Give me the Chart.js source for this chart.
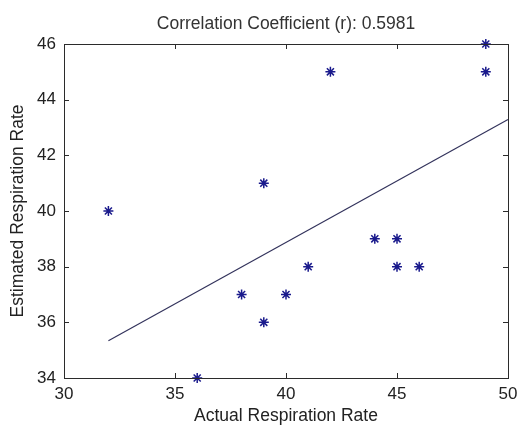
<!DOCTYPE html>
<html>
<head>
<meta charset="utf-8">
<script src="https://cdn.jsdelivr.net/npm/chart.js@4/dist/chart.umd.min.js"></script>
<style>
  html, body { margin: 0; padding: 0; background: #fff; }
  #wrap { width: 520px; height: 427px; }
</style>
</head>
<body>
<div id="wrap"><canvas id="rrChart" width="520" height="427"></canvas></div>
<script>
// measured pairs: actual vs estimated respiration rate (breaths/min)
const actualRate = [32, 36, 38, 39, 39, 40, 41, 42, 44, 45, 45, 46, 49, 49];
const estimatedRate = [40, 34, 37, 36, 41, 37, 38, 45, 39, 39, 38, 38, 46, 45];

// least-squares fit line, end points
const fitX = [32, 50];
const fitY = [35.34, 43.29];

const xTicks = [30, 35, 40, 45, 50];
const yTicks = [34, 36, 38, 40, 42, 44, 46];

const FONT = 'Liberation Sans, Arial, Helvetica, sans-serif';

// box around the plot area with inward pointing ticks on all four sides
const boxTicks = {
  id: 'boxTicks',
  afterDatasetsDraw(chart) {
    const { ctx, chartArea: a, scales } = chart;
    const len = 5;
    ctx.save();
    ctx.strokeStyle = '#2b2b2b';
    ctx.lineWidth = 1;
    ctx.beginPath();
    xTicks.forEach(v => {
      const px = Math.round(scales.x.getPixelForValue(v)) + 0.5;
      ctx.moveTo(px, a.bottom); ctx.lineTo(px, a.bottom - len);
      ctx.moveTo(px, a.top); ctx.lineTo(px, a.top + len);
    });
    yTicks.forEach(v => {
      const py = Math.round(scales.y.getPixelForValue(v)) + 0.5;
      ctx.moveTo(a.left, py); ctx.lineTo(a.left + len, py);
      ctx.moveTo(a.right, py); ctx.lineTo(a.right - len, py);
    });
    ctx.stroke();
    ctx.strokeRect(Math.round(a.left) + 0.5, Math.round(a.top) + 0.5,
      Math.round(a.right - a.left), Math.round(a.bottom - a.top));
    ctx.restore();
  }
};

const ctx = document.getElementById('rrChart').getContext('2d');
new Chart(ctx, {
  type: 'scatter',
  data: {
    datasets: [
      {
        label: 'Rate',
        data: actualRate.map((x, i) => ({ x, y: estimatedRate[i] })),
        pointStyle: 'star',
        pointRadius: 5,
        pointHoverRadius: 5,
        borderColor: '#1a1a8c',
        backgroundColor: '#1a1a8c',
        pointBorderWidth: 1.5,
        clip: false
      },
      {
        label: 'Fit',
        data: fitX.map((x, i) => ({ x, y: fitY[i] })),
        showLine: true,
        pointRadius: 0,
        borderColor: '#33335c',
        borderWidth: 1.2,
        clip: false
      }
    ]
  },
  options: {
    responsive: false,
    animation: false,
    layout: { padding: { left: 0, right: 12, top: 0, bottom: 0 } },
    plugins: {
      legend: { display: false },
      tooltip: { enabled: false },
      title: {
        display: true,
        fullSize: false, // center over the plot area only
        text: 'Correlation Coefficient (r): 0.5981',
        color: '#333',
        font: { family: FONT, size: 17.5, weight: 'normal' },
        padding: { top: 14, bottom: 9 }
      }
    },
    scales: {
      x: {
        type: 'linear',
        min: 30,
        max: 50,
        afterBuildTicks: s => { s.ticks = xTicks.map(value => ({ value })); },
        afterFit: s => { s.height = 49; s.paddingLeft = 0; s.paddingRight = 0; },
        grid: { display: true, drawOnChartArea: false, drawTicks: false },
        border: { display: false },
        ticks: {
          color: '#222',
          font: { family: FONT, size: 17 },
          padding: 6,
          maxRotation: 0
        },
        title: {
          display: true,
          text: 'Actual Respiration Rate',
          color: '#222',
          font: { family: FONT, size: 17.5 },
          padding: { top: 0, bottom: 0 }
        }
      },
      y: {
        type: 'linear',
        min: 34,
        max: 46,
        afterBuildTicks: s => { s.ticks = yTicks.map(value => ({ value })); },
        afterFit: s => { s.width = 64; s.paddingTop = 0; s.paddingBottom = 0; },
        grid: { display: true, drawOnChartArea: false, drawTicks: false },
        border: { display: false },
        ticks: {
          color: '#222',
          font: { family: FONT, size: 17 },
          padding: 8
        },
        title: {
          display: true,
          text: 'Estimated Respiration Rate',
          color: '#222',
          font: { family: FONT, size: 17.5 },
          padding: { top: 8, bottom: 0 }
        }
      }
    }
  },
  plugins: [boxTicks]
});
</script>
</body>
</html>
